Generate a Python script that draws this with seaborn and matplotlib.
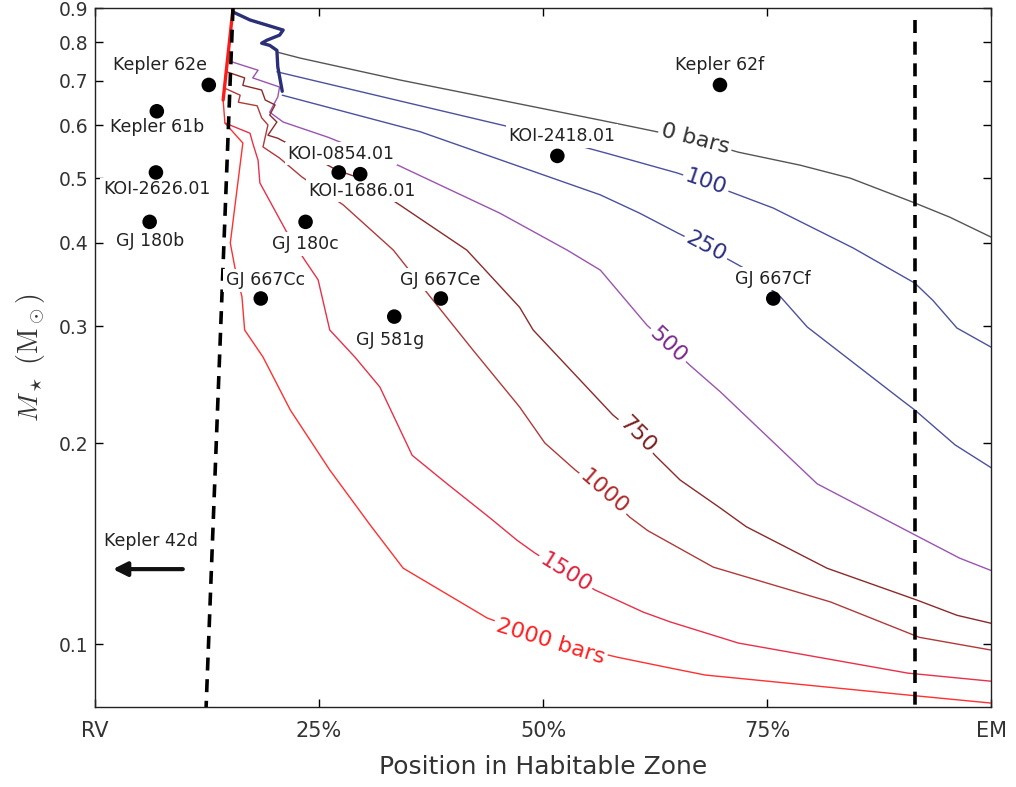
import numpy as np
import pandas as pd
import matplotlib
matplotlib.use("Agg")
import matplotlib.pyplot as plt
import seaborn as sns
from matplotlib.ticker import FixedLocator, NullLocator

sns.set_theme(style="ticks")
plt.rcParams["font.family"] = ["DejaVu Sans"]
plt.rcParams["mathtext.fontset"] = "cm"

# ---------------- data (x: position in HZ, %, y: stellar mass, Msun) ----------------
p0_x = [20.3, 22.9, 34.0, 45.2, 56.4, 61.9, 67.0, 71.8, 78.7, 84.3, 91.5, 95.4, 100.0]
p0_y = [0.773, 0.757, 0.702, 0.655, 0.611, 0.590, 0.571, 0.547, 0.523, 0.500, 0.459, 0.437, 0.408]

p100_x = [20.3, 34.0, 45.8, 57.1, 65.0, 68.2, 70.9, 75.7, 84.6, 91.5, 93.5, 96.2, 100.0]
p100_y = [0.722, 0.653, 0.599, 0.545, 0.509, 0.492, 0.477, 0.451, 0.393, 0.348, 0.328, 0.298, 0.279]

p250_x = [20.9, 36.3, 56.4, 60.8, 65.0, 68.2, 72.2, 74.8, 76.5, 79.5, 90.1, 91.5, 96.0, 100.0]
p250_y = [0.666, 0.587, 0.472, 0.443, 0.414, 0.394, 0.368, 0.346, 0.332, 0.299, 0.232, 0.2245, 0.199, 0.184]

p500_x = [15.3, 18.2, 17.6, 20.6, 20.4, 19.5, 21.0, 26.0, 33.8, 45.2, 52.7, 56.4, 61.6, 64.0, 66.4,
          69.8, 80.6, 92.0, 96.5, 100.0]
p500_y = [0.747, 0.726, 0.707, 0.685, 0.662, 0.628, 0.607, 0.576, 0.523, 0.443, 0.390, 0.364, 0.301,
          0.281, 0.262, 0.239, 0.174, 0.1447, 0.1346, 0.129]

p750_x = [14.7, 16.7, 16.5, 18.6, 19.0, 20.1, 19.5, 20.3, 19.3, 20.4, 22.9, 27.0, 29.2, 34.0, 41.5,
          47.4, 48.9, 57.8, 60.5, 62.5, 65.3, 69.8, 72.7, 81.7, 91.7, 96.2, 100.0]
p750_y = [0.722, 0.707, 0.689, 0.678, 0.655, 0.644, 0.622, 0.607, 0.580, 0.574, 0.551, 0.514, 0.502,
          0.456, 0.390, 0.320, 0.296, 0.2207, 0.206, 0.192, 0.1763, 0.160, 0.150, 0.130, 0.1165,
          0.1105, 0.1075]

p1000_x = [14.4, 16.2, 16.0, 18.1, 18.6, 19.3, 18.75, 20.6, 23.1, 27.7, 33.3, 36.8, 42.2, 47.4, 50.2,
           53.6, 56.8, 59.7, 61.7, 69.0, 82.1, 92.0, 100.0]
p1000_y = [0.683, 0.666, 0.650, 0.642, 0.616, 0.601, 0.557, 0.536, 0.502, 0.456, 0.390, 0.340, 0.276,
           0.2268, 0.2004, 0.1825, 0.169, 0.155, 0.148, 0.1305, 0.1157, 0.1024, 0.098]

p1500_x = [14.5, 17.3, 17.6, 18.2, 18.4, 21.4, 23.4, 24.9, 26.2, 29.0, 31.8, 35.4, 39.3, 44.1, 47.1,
           49.1, 52.5, 55.8, 61.2, 64.2, 71.8, 90.7, 100.0]
p1500_y = [0.605, 0.584, 0.5646, 0.532, 0.492, 0.415, 0.377, 0.352, 0.296, 0.2696, 0.243, 0.192,
           0.174, 0.1546, 0.1432, 0.137, 0.1283, 0.1206, 0.1117, 0.108, 0.1004, 0.0905, 0.088]

p2000_x = [14.3, 14.5, 16.5, 15.1, 15.6, 16.4, 16.7, 18.75, 21.8, 26.2, 30.7, 34.4, 41.9, 43.75,
           50.8, 58.3, 64.2, 68.1, 90.7, 100.0]
p2000_y = [0.655, 0.605, 0.5646, 0.3997, 0.368, 0.332, 0.296, 0.2696, 0.2245, 0.1825, 0.151, 0.130,
           0.1133, 0.1095, 0.101, 0.0956, 0.0921, 0.0899, 0.0839, 0.0816]

# runaway-region boundary segments
edge_blue_x = [15.4, 17.3, 21.0, 20.6, 19.2, 18.6, 19.5, 20.3, 20.4, 20.9]
edge_blue_y = [0.8877, 0.8635, 0.834, 0.8195, 0.8054, 0.797, 0.791, 0.7775, 0.7344, 0.675]
edge_red_x = [15.4, 14.3]
edge_red_y = [0.897, 0.655]

# habitable-zone edges (dashed)
inner_x = [15.4, 12.4]
inner_y = [0.9, 0.0805]
outer_x = [91.5, 91.5]
outer_y = [0.8635, 0.0805]

# contour levels and where their labels sit
levels = ["0 bars", "100", "250", "500", "750", "1000", "1500", "2000 bars"]
label_x = [67.0, 68.2, 68.2, 64.0, 60.5, 56.8, 52.5, 50.8]
label_y = [0.572, 0.493, 0.394, 0.281, 0.206, 0.169, 0.128, 0.101]
label_rot = [-14.5, -19, -28, -43, -45, -41, -32, -17]

# planets
planets = ["Kepler 62e", "Kepler 61b", "KOI-2626.01", "GJ 180b", "GJ 180c", "KOI-0854.01",
           "KOI-1686.01", "KOI-2418.01", "Kepler 62f", "GJ 667Cc", "GJ 667Ce", "GJ 667Cf", "GJ 581g"]
planet_x = [12.7, 6.9, 6.8, 6.1, 23.5, 27.2, 29.6, 51.6, 69.75, 18.5, 38.6, 75.7, 33.4]
planet_m = [0.69, 0.63, 0.51, 0.43, 0.43, 0.51, 0.507, 0.54, 0.69, 0.33, 0.33, 0.33, 0.31]

kepler42_name = "Kepler 42d"
kepler42_x = [9.8, 2.0]
kepler42_m = 0.1296

xtick_vals = [0, 25, 50, 75, 100]
xtick_labels = ["RV", "25%", "50%", "75%", "EM"]
ytick_vals = [0.1, 0.2, 0.3, 0.4, 0.5, 0.6, 0.7, 0.8, 0.9]
ytick_labels = ["0.1", "0.2", "0.3", "0.4", "0.5", "0.6", "0.7", "0.8", "0.9"]

# ---------------- styling ----------------
line_colors = ["#555555", "#4b519e", "#4b519e", "#9a54b0", "#8c2a2a", "#b03a3a", "#e8304a", "#ff3030"]
text_colors = ["#333333", "#2b2f80", "#2b2f80", "#7b2a8c", "#7d1f1f", "#b02a2a", "#e0203c", "#ff2020"]
label_offsets = [(-35, 14), (0, -11.5), (0.5, -12), (0, -13.5), (0, -16), (1.5, 13.5), (1.5, -12),
                 (3.5, 14.4), (0, 14), (3.5, 13), (-0.5, 13.5), (0, 14.4), (-3, -17)]

fig = plt.figure(figsize=(10.16, 7.87), dpi=100)
ax = fig.add_axes([95 / 1016, 1 - 707 / 787, (991 - 95) / 1016, (707 - 8) / 787])
ax.set_yscale("log")

series = [(p0_x, p0_y), (p100_x, p100_y), (p250_x, p250_y), (p500_x, p500_y),
          (p750_x, p750_y), (p1000_x, p1000_y), (p1500_x, p1500_y), (p2000_x, p2000_y)]
for (xs, ys), c in zip(series, line_colors):
    sns.lineplot(x=xs, y=ys, sort=False, estimator=None, color=c, lw=1.0, ax=ax, zorder=2)

sns.lineplot(x=edge_blue_x, y=edge_blue_y, sort=False, estimator=None, color="#2a2f78", lw=2.4,
             ax=ax, zorder=3)
sns.lineplot(x=edge_red_x, y=edge_red_y, sort=False, estimator=None, color="#ff1a1a", lw=2.4,
             ax=ax, zorder=3)

for xs, ys in [(inner_x, inner_y), (outer_x, outer_y)]:
    ln = sns.lineplot(x=xs, y=ys, sort=False, estimator=None, color="black", lw=2.6, ax=ax, zorder=4)
    ln.lines[-1].set_dashes((3.6, 2.4))

for name, x, y, r, c in zip(levels, label_x, label_y, label_rot, text_colors):
    ax.text(x, y, name, rotation=r, ha="center", va="center", color=c, fontsize=16,
            rotation_mode="anchor", zorder=5,
            bbox=dict(boxstyle="square,pad=0.12", fc="white", ec="none"))

sns.scatterplot(x=planet_x, y=planet_m, color="black", s=110, edgecolor="none", ax=ax, zorder=7)
for name, x, y, off in zip(planets, planet_x, planet_m, label_offsets):
    ax.annotate(name, (x, y), xytext=off, textcoords="offset points", ha="center", va="center",
                fontsize=12.5, color="#222222", zorder=6,
                bbox=dict(boxstyle="square,pad=0.15", fc="white", ec="none"))

ax.annotate("", xy=(kepler42_x[1], kepler42_m), xytext=(kepler42_x[0], kepler42_m),
            arrowprops=dict(arrowstyle="-|>,head_length=0.7,head_width=0.35", lw=3, color="#111111",
                            shrinkA=0, shrinkB=0), zorder=6)
ax.annotate(kepler42_name, (np.mean(kepler42_x), kepler42_m), xytext=(2, 20), textcoords="offset points",
            ha="center", va="center", fontsize=12.5, color="#222222")

ax.set_xlim(0, 100)
ax.set_ylim(0.0805, 0.9)
ax.xaxis.set_major_locator(FixedLocator(xtick_vals))
ax.set_xticklabels(xtick_labels, fontsize=15)
ax.yaxis.set_major_locator(FixedLocator(ytick_vals))
ax.yaxis.set_minor_locator(NullLocator())
ax.set_yticklabels(ytick_labels, fontsize=13.5)
ax.tick_params(axis="both", direction="in", top=True, right=True, length=6, width=1, color="black")
ax.tick_params(axis="x", pad=10)
ax.tick_params(axis="y", pad=5)
for sp in ax.spines.values():
    sp.set_color("#222222")
    sp.set_linewidth(1.0)

ax.set_xlabel("Position in Habitable Zone", fontsize=18, color="#333333", labelpad=10)
ax.set_ylabel(r"$M_\star\ (\mathrm{M}_\odot)$", fontsize=20, color="#333333", labelpad=8)
ax.tick_params(labelcolor="#333333")

fig.savefig("out.png", dpi=100)
